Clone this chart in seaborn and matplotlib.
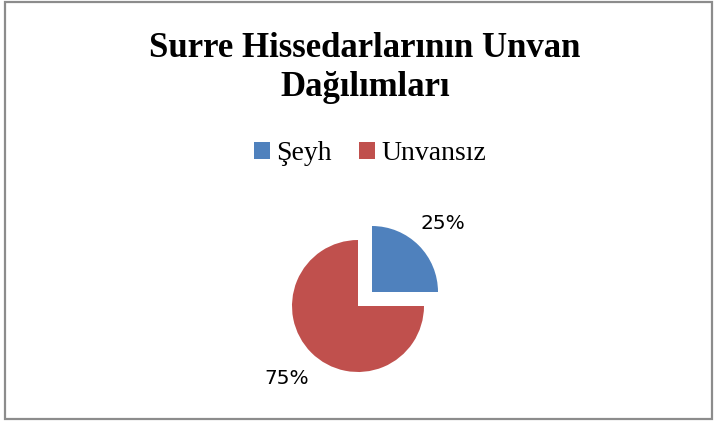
import matplotlib
matplotlib.use("Agg")
import matplotlib.pyplot as plt
import seaborn as sns
from matplotlib.patches import Patch, Rectangle

categories = ["Şeyh", "Unvansız"]
values = [25, 75]
colors = ["#4F81BD", "#C0504D"]
title_lines = ["Surre Hissedarlarının Unvan", "Dağılımları"]

sns.set_theme(style="white")
plt.rcParams["font.family"] = ["DejaVu Sans"]
plt.rcParams["text.color"] = "black"

W, H = 715, 422
fig = plt.figure(figsize=(W / 100, H / 100), dpi=100)
fig.patch.set_facecolor("white")

# border
fig.add_artist(Rectangle((4.5 / W, 3 / H), 707 / W, 417 / H, transform=fig.transFigure,
                         fill=False, edgecolor="#8c8c8c", linewidth=1.6))

cx, cy, px = 365, 299, 264
ax = fig.add_axes([(cx - px / 2) / W, (H - cy - px / 2) / H, px / W, px / H])
wedges, texts, autotexts = ax.pie(values, colors=colors, startangle=90, counterclock=False,
                                  explode=[0.15, 0.15], autopct="%1.0f%%", pctdistance=1.52,
                                  radius=1.0,
                                  wedgeprops=dict(linewidth=0),
                                  textprops=dict(family=["DejaVu Sans"], fontsize=14.5, color="black"))
for t in autotexts:
    t.set_verticalalignment("center_baseline")
ax.set_xlim(-2, 2)
ax.set_ylim(-2, 2)
ax.set_aspect("auto")
ax.axis("off")

for line, base in zip(title_lines, [57, 96]):
    fig.text(365 / W, 1 - base / H, line, ha="center", va="baseline", fontsize=25,
             fontweight="bold", family=["Liberation Serif"], color="black")

handles = [Patch(facecolor=c, edgecolor="none") for c in colors]
fig.legend(handles, categories, loc="center", bbox_to_anchor=(370 / W, 1 - 154 / H), ncol=2,
           frameon=False, handlelength=0.58, handleheight=0.58, handletextpad=0.22,
           columnspacing=1.0, borderpad=0, labelcolor="black",
           prop=dict(family=["Liberation Serif"], size=20))

fig.savefig("out.png", dpi=100, facecolor="white")
